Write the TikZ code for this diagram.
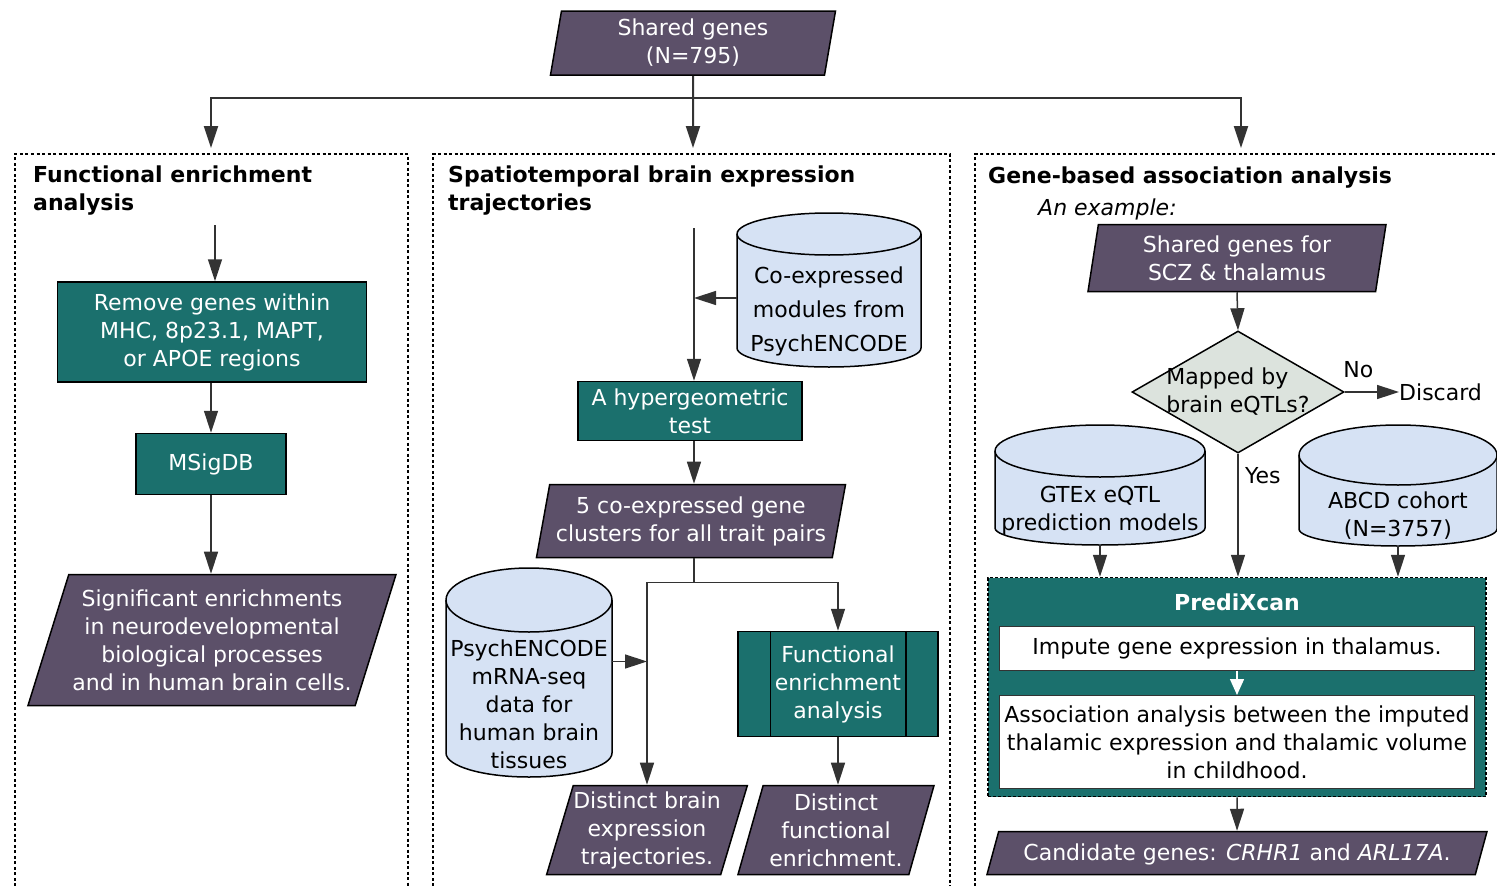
\documentclass[tikz,border=0pt]{standalone}
\usepackage{fontspec}
\setmainfont{DejaVu Sans}
\usetikzlibrary{arrows.meta,shapes.geometric,backgrounds}
\definecolor{plum}{HTML}{5C5069}
\definecolor{tealbox}{HTML}{1B706D}
\definecolor{dbblue}{HTML}{D6E2F4}
\definecolor{decgray}{HTML}{DCE3DD}
\definecolor{linegray}{HTML}{333333}
\tikzset{
	every node/.style={font=\fontsize{22}{28}\selectfont},
	datanode/.style 2 args={trapezium,trapezium left angle=#1,trapezium right angle=#2,trapezium stretches body=true,fill=plum,draw=black,line width=1.5pt,text=white,align=center,inner sep=0pt},
	process/.style={rectangle,fill=tealbox,draw=black,line width=1.5pt,text=white,align=center,inner sep=0pt},
	database/.style={rectangle,align=center,inner sep=0pt,outer sep=0pt},
	drum/.style={fill=dbblue,draw=black,line width=1.5pt},
	decision/.style={diamond,fill=decgray,draw=black,line width=1.5pt,align=left,inner xsep=-40pt,inner ysep=0pt},
	heading/.style={anchor=north west,inner sep=0pt,align=left,font=\fontsize{22}{28}\selectfont\bfseries},
	stepbox/.style={rectangle,fill=white,draw=linegray,line width=1pt,align=center,inner sep=0pt},
	flow/.style={-{Triangle[length=22pt,width=14pt]},draw=linegray,line width=1.5pt},
	panel/.style={draw=black,line width=1.5pt,dash pattern=on 3pt off 2.5pt}
}
% cylinder round a database node: name, x radius, top y radius, bottom y radius
\newcommand{\drumshape}[4]{%
	\begin{scope}[on background layer]
		\draw [drum] ([yshift=#4]#1.south west) -- ([yshift=#3]#1.north west) arc[start angle=180,end angle=0,x radius=#2,y radius=#3] -- ([yshift=#4]#1.south east) arc[start angle=0,end angle=-180,x radius=#2,y radius=#4] -- cycle;
		\draw [drum,fill=none] ([yshift=#3]#1.north west) arc[start angle=180,end angle=360,x radius=#2,y radius=#3];
	\end{scope}}
\begin{document}
\begin{tikzpicture}[x=1pt,y=-1pt]
	\useasboundingbox (0,0) rectangle (1497,886);
	% panels
	\draw [panel] (15,886) -- (15,154) -- (408,154) -- (408,886);
	\draw [panel] (433,886) -- (433,154) -- (950,154) -- (950,886);
	\draw [panel] (975,886) -- (975,154) -- (1497,154);
	\node [heading] (head1) at (33,166) {Functional enrichment\\analysis};
	\node [heading] (head2) at (448,166) {Spatiotemporal brain expression\\trajectories};
	\node [heading] (head3) at (988,167) {Gene-based association analysis};
	\node [anchor=north west,inner sep=0pt,font=\fontsize{22}{28}\selectfont\itshape] (example) at (1038,199) {An example:};

	% top
	\node [datanode={77}{103},minimum width=285pt,minimum height=64pt] (genes) at (693,43) {Shared genes\\(N=795)};
	\coordinate (in1) at (211,148);
	\coordinate (in2) at (693,148);
	\coordinate (in3) at (1241,148);
	\draw [flow,line width=2pt] (genes.south) -- (in2);
	\draw [flow,line width=2pt] (genes.south) ++(0,22) -| (in1);
	\draw [flow,line width=2pt] (genes.south) ++(0,22) -| (in3);

	% functional enrichment
	\coordinate (fe) at (215,225);
	\node [process,minimum width=309pt,minimum height=100pt] (remove) at (212,332) {Remove genes within\\MHC, 8p23.1, MAPT,\\or APOE regions};
	\node [process,minimum width=150pt,minimum height=61pt] (msig) at (211,464) {MSigDB};
	\node [datanode={68}{112},minimum width=368pt,minimum height=131pt] (signif) at (212,640) {Significant enrichments\\in neurodevelopmental\\biological processes\\and in human brain cells.};
	\draw [flow] (fe) -- (remove.north -| fe);
	\draw [flow] (remove.south -| msig.north) -- (msig.north);
	\draw [flow] (msig.south) -- (msig.south |- signif.north);

	% spatiotemporal trajectories
	\coordinate (st) at (694,228);
	\node [database,minimum width=184pt,minimum height=112pt,font=\fontsize{22}{34}\selectfont] (coexp) at (829,311) {Co-expressed\\modules from\\PsychENCODE};
	\drumshape{coexp}{92pt}{21pt}{19pt}
	\node [process,minimum width=224pt,minimum height=59pt] (hyper) at (690,411) {A hypergeometric\\test};
	\node [datanode={75}{105},minimum width=309pt,minimum height=73pt] (clusters) at (691,521) {5 co-expressed gene\\clusters for all trait pairs};
	\node [database,minimum width=166pt,minimum height=145pt] (psych) at (529,704.5) {PsychENCODE\\mRNA-seq\\data for\\human brain\\tissues};
	\drumshape{psych}{83pt}{32pt}{24pt}
	\node [process,minimum width=200pt,minimum height=105pt] (funcenr) at (838,684) {Functional\\enrichment\\analysis};
	\draw [line width=1.5pt] ([xshift=33pt]funcenr.north west) -- ([xshift=33pt]funcenr.south west);
	\draw [line width=1.5pt] ([xshift=-33pt]funcenr.north east) -- ([xshift=-33pt]funcenr.south east);
	\node [datanode={71}{109},minimum width=200pt,minimum height=89pt] (distbrain) at (647,830) {Distinct brain\\expression\\trajectories.};
	\node [datanode={71}{109},minimum width=196pt,minimum height=89pt] (distfunc) at (836,830) {Distinct\\functional\\enrichment.};
	\draw [flow] (st) -- (hyper.north -| st);
	\draw [flow] ([yshift=13pt]coexp.west) -- ([yshift=13pt]coexp.west -| st);
	\draw [flow] (hyper.south -| st) -- (clusters.north -| st);
	\draw [draw=linegray,line width=1.5pt] (clusters.south -| st) -- ++(0,24) coordinate (split);
	\draw [flow] (split) -| (distbrain.center |- distbrain.north);
	\draw [flow] (split) -| (funcenr.north);
	\draw [flow] ([yshift=43pt]psych.east) -- ([yshift=43pt]psych.east -| distbrain.center);
	\draw [flow] (funcenr.south) -- (funcenr.south |- distfunc.north);

	% gene-based association
	\node [datanode={77}{103},minimum width=298pt,minimum height=67pt] (sharedscz) at (1237,258) {Shared genes for\\SCZ \& thalamus};
	\node [decision,minimum width=212pt,minimum height=122pt] (mapped) at (1238,392) {Mapped by\\brain eQTLs?};
	\node [anchor=west,inner sep=0pt] (discard) at (1399,392) {Discard};
	\node [database,minimum width=210pt,minimum height=68pt] (gtex) at (1100,511) {GTEx eQTL\\prediction models};
	\drumshape{gtex}{105pt}{26pt}{17pt}
	\node [database,minimum width=198pt,minimum height=61pt] (abcd) at (1398,515.5) {ABCD cohort\\(N=3757)};
	\drumshape{abcd}{99pt}{30pt}{17pt}
	\node [rectangle,fill=tealbox,draw=black,line width=1.5pt,dash pattern=on 3pt off 2pt,minimum width=498pt,minimum height=219pt] (predix) at (1237,687) {};
	\node [text=white,font=\fontsize{22}{28}\selectfont\bfseries] (predixtitle) at (1237,602) {PrediXcan};
	\node [stepbox,minimum width=475pt,minimum height=44pt] (impute) at (1237,648) {Impute gene expression in thalamus.};
	\node [stepbox,minimum width=475pt,minimum height=93pt] (assoc) at (1237,742) {Association analysis between the imputed\\thalamic expression and thalamic volume\\in childhood.};
	\node [datanode={58}{122},minimum width=500pt,minimum height=43pt,text depth=2pt] (candidate) at (1237,853) {Candidate genes: \textit{CRHR1} and \textit{ARL17A}.};
	\draw [flow] (sharedscz.south) -- (mapped.north);
	\draw [flow] (mapped.east) -- node [pos=0.25,above=10pt] (nolabel) {No} (discard.west);
	\draw [flow] (mapped.south) -- node [pos=0.18,right=3pt] (yeslabel) {Yes} (predix.north -| mapped.south);
	\draw [flow] (gtex.south) -- (gtex.south |- predix.north);
	\draw [flow] (abcd.south) -- (abcd.south |- predix.north);
	\draw [-{Triangle[length=16pt,width=14pt]},draw=white,line width=1.5pt] (impute.south) -- (assoc.north);
	\draw [flow] (predix.south) -- (candidate.north);
\end{tikzpicture}
\end{document}
